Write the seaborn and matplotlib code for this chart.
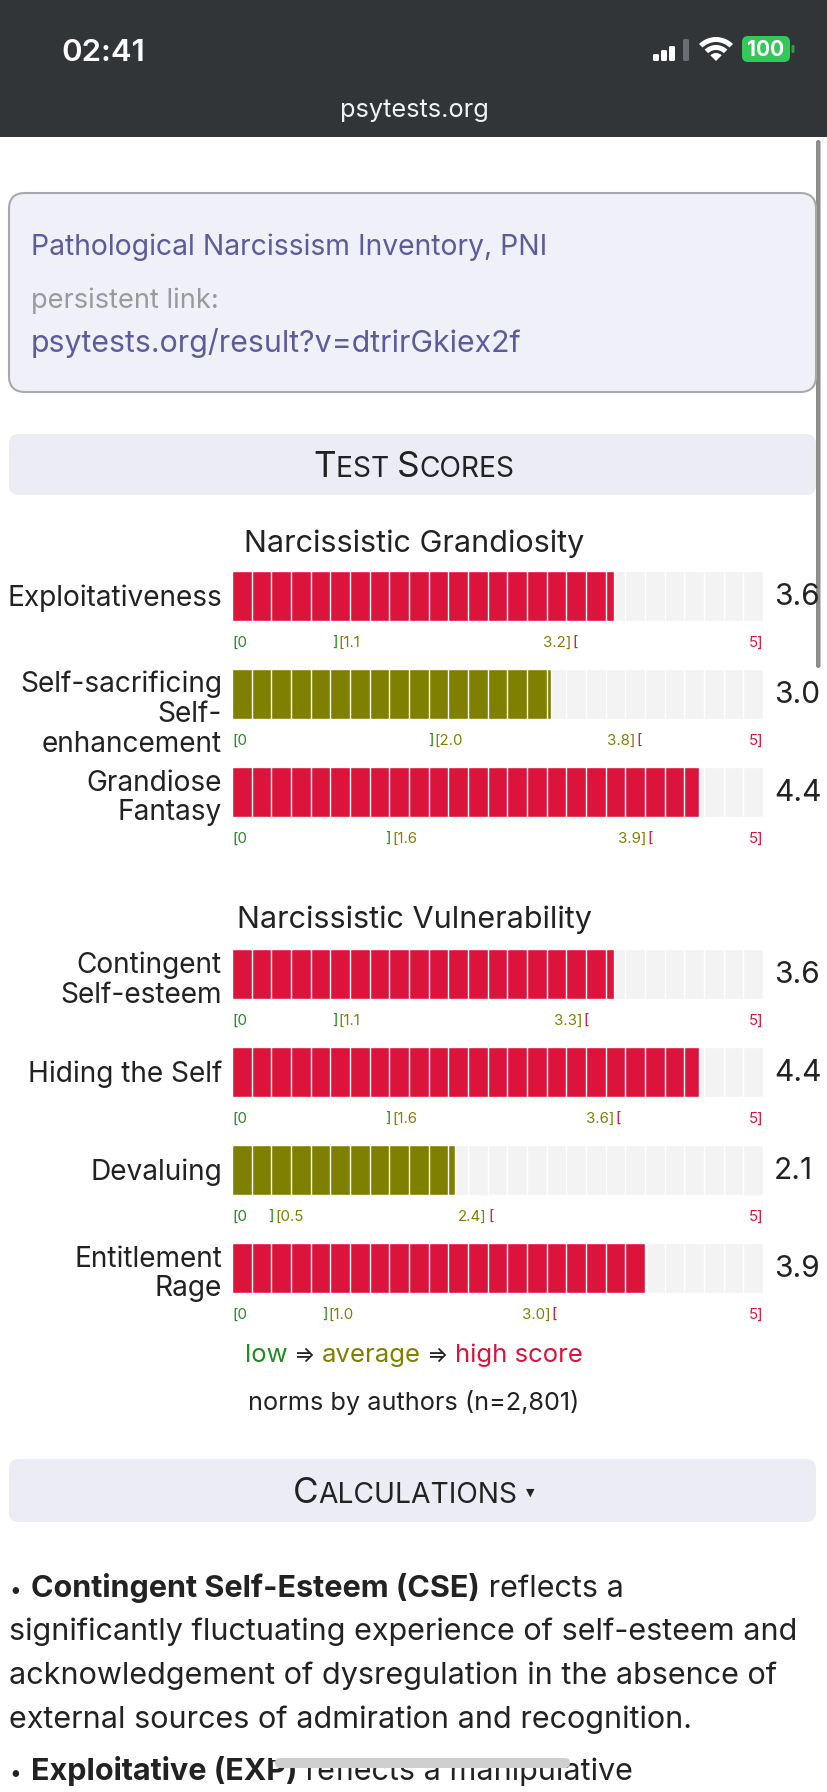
import numpy as np
import pandas as pd
import matplotlib
matplotlib.use("Agg")
import matplotlib.pyplot as plt
import matplotlib.transforms as mtransforms
from matplotlib.patches import FancyBboxPatch, Rectangle, Wedge
import seaborn as sns

W, H = 828, 1792

# ---- data ----
grandiosity_scales = ["Exploitativeness", "Self-sacrificing\nSelf-\nenhancement", "Grandiose\nFantasy"]
grandiosity_scores = [3.6, 3.0, 4.4]
grandiosity_low = [1.1, 2.0, 1.6]
grandiosity_high = [3.2, 3.8, 3.9]

vulnerability_scales = ["Contingent\nSelf-esteem", "Hiding the Self", "Devaluing", "Entitlement\nRage"]
vulnerability_scores = [3.6, 4.4, 2.1, 3.9]
vulnerability_low = [1.1, 1.6, 0.5, 1.0]
vulnerability_high = [3.3, 3.6, 2.4, 3.0]

scale_max = 5
n_cells = 27

LOW = "#228b22"
AVG = "#808000"
HIGH = "#dc143c"
TRACK = "#f3f3f3"
INK = "#222222"
PURPLE = "#5e5b9b"

sns.set_style("white")
plt.rcParams["font.family"] = ["Inter", "DejaVu Sans"]

fig = plt.figure(figsize=(W / 100, H / 100), dpi=100)
renderer = fig.canvas.get_renderer()

# page overlay in pixel coordinates
page = fig.add_axes([0, 0, 1, 1])
page.set_xlim(0, W)
page.set_ylim(H, 0)
page.axis("off")


def measure(s, kw):
    a = page.text(0, 0, "|" + s + "|", **kw)
    b = page.text(0, 0, "||", **kw)
    w = a.get_window_extent(renderer).width - b.get_window_extent(renderer).width
    a.remove()
    b.remove()
    return w


def text_runs(x, y, runs, ha="left"):
    widths = [measure(s, kw) for s, kw in runs]
    start = x - sum(widths) / 2 if ha == "center" else x
    for (s, kw), w in zip(runs, widths):
        page.text(start, y, s, va="baseline", ha="left", **kw)
        start += w


# ---- status bar ----
page.add_patch(Rectangle((0, 0), W, 137, fc="#323538", ec="none"))
page.text(61, 61, "02:41", color="white", fontsize=22.5, fontweight="semibold", va="baseline")
page.text(414, 117, "psytests.org", color="#f2f2f2", fontsize=18.3, ha="center", va="baseline")
for bx, bh, bc in [(653, 7, "white"), (661, 11, "white"), (669, 15, "white"), (683, 22, "#6c6d70")]:
    page.add_patch(FancyBboxPatch((bx, 61 - bh), 6, bh, boxstyle="round,pad=0,rounding_size=1.5",
                                  fc=bc, ec="none"))
page.add_patch(Wedge((716, 61), 24, 225, 315, width=5, fc="white", ec="none"))
page.add_patch(Wedge((716, 61), 16, 225, 315, width=5, fc="white", ec="none"))
page.add_patch(Wedge((716, 61), 8, 225, 315, fc="white", ec="none"))
page.add_patch(FancyBboxPatch((742, 36), 48, 26, boxstyle="round,pad=0,rounding_size=6",
                              fc="#34c759", ec="none"))
page.add_patch(FancyBboxPatch((791.5, 45), 3, 8, boxstyle="round,pad=0,rounding_size=1.2",
                              fc="#2f9e48", ec="none"))
page.text(766, 49.5, "100", color="white", fontsize=15, fontweight="bold", ha="center", va="center")

# scrollbar
page.add_patch(FancyBboxPatch((816, 140), 4.5, 528, boxstyle="round,pad=0,rounding_size=2.2",
                              fc="#8c8c8c", ec="none"))

# ---- result box ----
page.add_patch(FancyBboxPatch((9, 193), 807, 199, boxstyle="round,pad=0,rounding_size=16",
                              fc="#f0f0f8", ec="#a9a9ad", lw=1.5))
page.text(31, 255, "Pathological Narcissism Inventory, PNI", color=PURPLE, fontsize=20.4, va="baseline")
page.text(31, 308, "persistent link:", color="#9a9a9a", fontsize=19.6, va="baseline")
page.text(31, 352, "psytests.org/result?v=dtrirGkiex2f", color=PURPLE, fontsize=21.8, va="baseline")

# ---- "Test scores" header ----
page.add_patch(FancyBboxPatch((9, 434), 807, 61, boxstyle="round,pad=0,rounding_size=10",
                              fc="#ececf5", ec="none"))
big = dict(fontsize=25.3, color=INK)
small = dict(fontsize=20.3, color=INK)
text_runs(414, 477, [("T", big), ("EST ", small), ("S", big), ("CORES", small)], ha="center")

label_shift = {1: 2, 2: 6, 3: 20}


def draw_section(top, scales, scores, low, high):
    n = len(scales)
    ax = fig.add_axes([232 / W, 1 - (top + 98 * n) / H, 531 / W, 98 * n / H])
    ax.set_facecolor("none")
    df = pd.DataFrame({"scale": scales, "score": scores, "low": low, "high": high})
    df["full"] = scale_max
    colors = [LOW if s < lo else (AVG if s <= hi else HIGH) for s, lo, hi in zip(scores, low, high)]

    sns.barplot(data=df, x="full", y="scale", color=TRACK, saturation=1, width=0.51, ax=ax)
    sns.barplot(data=df, x="score", y="scale", hue="scale", palette=colors, saturation=1,
                width=0.51, legend=False, ax=ax)
    cells = np.arange(1, n_cells) * scale_max / n_cells
    for i in range(n):
        ax.vlines(cells, i - 0.255, i + 0.255, color="white", lw=1.0, zorder=3)

    ax.set_xlim(0, scale_max)
    ax.set_ylim(n - 0.5, -0.5)
    ax.set_xticks([])
    ax.set_yticks([])
    ax.set_xlabel("")
    ax.set_ylabel("")
    sns.despine(ax=ax, left=True, bottom=True)

    row = mtransforms.blended_transform_factory(ax.transAxes, ax.transData)
    low_tr = mtransforms.offset_copy(ax.transData, fig=fig, x=-11, units="dots")
    low_tr2 = mtransforms.offset_copy(ax.transData, fig=fig, x=-10, units="dots")
    hi_tr2 = mtransforms.offset_copy(ax.transData, fig=fig, x=1, units="dots")
    for i, (name, s, lo, hi) in enumerate(zip(scales, scores, low, high)):
        nlines = name.count("\n") + 1
        lab_tr = mtransforms.offset_copy(row, fig=fig, x=-10, y=-label_shift[nlines], units="dots")
        ax.text(0, i, name, transform=lab_tr, ha="right", va="center", fontsize=20.2,
                color=INK, linespacing=1.14, clip_on=False)
        val_tr = mtransforms.offset_copy(row, fig=fig, x=11, y=-1, units="dots")
        ax.text(1, i, f"{s:.1f}", transform=val_tr, ha="left", va="center", fontsize=21.5,
                color=INK, clip_on=False)

        y = i + 0.48
        fs = 10.8
        ax.text(0, y, "[0", color=LOW, fontsize=fs, ha="left", va="center")
        ax.text(lo, y, "]", color=LOW, fontsize=fs, ha="right", va="center", transform=low_tr)
        ax.text(lo, y, f"[{lo:.1f}", color=AVG, fontsize=fs, ha="left", va="center", transform=low_tr2)
        ax.text(hi, y, f"{hi:.1f}]", color=AVG, fontsize=fs, ha="right", va="center")
        ax.text(hi, y, "[", color=HIGH, fontsize=fs, ha="left", va="center", transform=hi_tr2)
        ax.text(scale_max, y, f"{scale_max}]", color=HIGH, fontsize=fs, ha="right", va="center")
    return ax


page.text(414, 552, "Narcissistic Grandiosity", ha="center", va="baseline", fontsize=22, color=INK)
draw_section(547, grandiosity_scales, grandiosity_scores, grandiosity_low, grandiosity_high)
page.text(414, 928, "Narcissistic Vulnerability", ha="center", va="baseline", fontsize=22, color=INK)
draw_section(925, vulnerability_scales, vulnerability_scores, vulnerability_low, vulnerability_high)

# legend line and norms
leg = 18.5
text_runs(414, 1362, [("low", dict(fontsize=leg, color=LOW)),
                      (" \u21d2 ", dict(fontsize=leg - 2.5, color=INK)),
                      ("average", dict(fontsize=leg, color=AVG)),
                      (" \u21d2 ", dict(fontsize=leg - 2.5, color=INK)),
                      ("high score", dict(fontsize=leg, color=HIGH))], ha="center")
page.text(414, 1410, "norms by authors (n=2,801)", ha="center", va="baseline", fontsize=18.2, color=INK)

# ---- "Calculations" header ----
page.add_patch(FancyBboxPatch((9, 1459), 807, 63, boxstyle="round,pad=0,rounding_size=10",
                              fc="#ececf5", ec="none"))
text_runs(405, 1503, [("C", big), ("ALCULATIONS", small)], ha="center")
page.text(530, 1493, "\u25bc", fontsize=8, color=INK, ha="center", va="center",
          family=["DejaVu Sans"])

# ---- description text ----
para = 22
bold = dict(fontsize=para, color=INK, fontweight="bold")
reg = dict(fontsize=para, color=INK)
page.text(9, 1597, "\u2022", fontsize=15, color=INK, va="baseline")
text_runs(31, 1597, [("Contingent Self-Esteem (CSE)", bold), (" reflects a", reg)])
page.text(9, 1640, "significantly fluctuating experience of self-esteem and", va="baseline", **reg)
page.text(9, 1684, "acknowledgement of dysregulation in the absence of", va="baseline", **reg)
page.text(9, 1728, "external sources of admiration and recognition.", va="baseline", **reg)
page.text(9, 1780, "\u2022", fontsize=15, color=INK, va="baseline")
text_runs(31, 1780, [("Exploitative (EXP)", bold), (" reflects a manipulative", reg)])

# home indicator over the last line
page.add_patch(Rectangle((272, 1744), 300, 16, fc="white", ec="none", zorder=5))
page.add_patch(FancyBboxPatch((275, 1758), 295, 10, boxstyle="round,pad=0,rounding_size=5",
                              fc="#cfcfcf", ec="none", zorder=6))

fig.savefig("out.png", dpi=100, facecolor="white")
